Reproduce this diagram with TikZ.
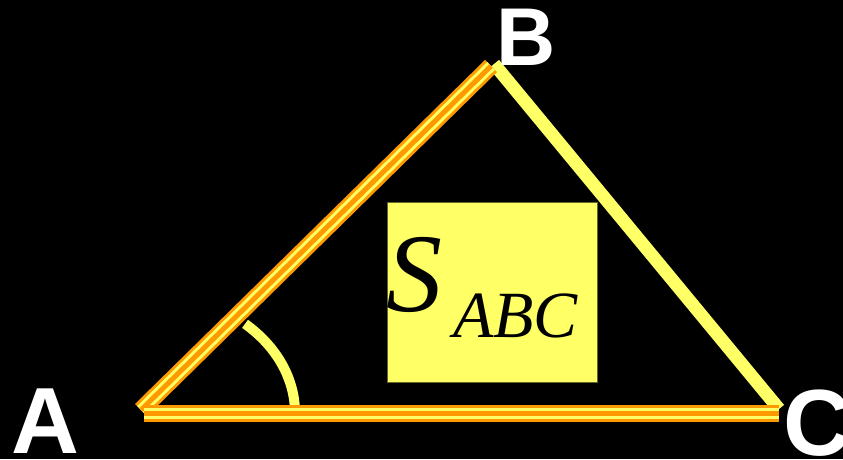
\documentclass[tikz,border=0pt]{standalone}
\usepackage{fontspec}
\setmainfont{Liberation Serif}
\newfontfamily\labelfont{Liberation Sans}
\definecolor{sideorange}{HTML}{FF9900}
\definecolor{sideyellow}{HTML}{FFFF66}
\tikzset{
  vertexlabel/.style={text=white, inner sep=0pt, anchor=base west, font=\labelfont\bfseries},
  stripedside/.style={sideorange, line width=17pt,
    postaction={draw, sideyellow, line width=11pt},
    postaction={draw, sideorange, line width=5pt}},
  plainside/.style={sideyellow, line width=13pt},
}
\begin{document}
\begin{tikzpicture}[x=1pt, y=-1pt]
  \fill[black] (0,0) rectangle (843,459);
  \useasboundingbox (0,0) rectangle (843,459);
  % vertices
  \coordinate (A) at (144,413);
  \coordinate (Atop) at (141,410);
  \coordinate (B) at (491,66);
  \coordinate (Bc) at (494,64);
  \coordinate (C) at (779,413);
  \coordinate (Cc) at (779,409);
  % angle at A
  \draw[sideyellow, line width=10pt] (295,413) arc[start angle=0, end angle=-48, x radius=151, y radius=120];
  % sides
  \draw[plainside] (Bc) -- (Cc);
  \draw[stripedside] (Atop) -- (B);
  \draw[stripedside] (A) -- (C);
  % area box
  \node[draw=black!60!sideyellow, fill=sideyellow, line width=0.8pt, minimum width=210pt, minimum height=180pt, inner sep=0pt] (area) at (492,292.5) {};
  \node[inner sep=0pt, anchor=base west, font=\itshape\fontsize{112}{112}\selectfont] (S) at (386,311) {S};
  \node[inner sep=0pt, anchor=base west, font=\itshape\fontsize{66}{66}\selectfont] (sub) at (453,337) {ABC};
  % labels
  \node[vertexlabel, font=\labelfont\bfseries\fontsize{94}{94}\selectfont] (labA) at (11,453) {A};
  \node[vertexlabel, font=\labelfont\bfseries\fontsize{82}{82}\selectfont] (labB) at (496,65) {B};
  \node[vertexlabel, font=\labelfont\bfseries\fontsize{94}{94}\selectfont] (labC) at (783,455) {C};
\end{tikzpicture}
\end{document}
